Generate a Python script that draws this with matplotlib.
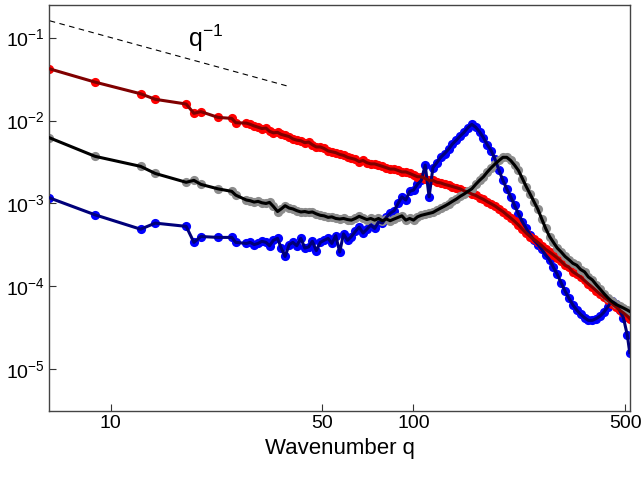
import numpy as np
import matplotlib
matplotlib.use("Agg")
import matplotlib.pyplot as plt

plt.rcParams['font.family'] = ['Liberation Sans', 'DejaVu Sans']
plt.rcParams['mathtext.fontset'] = 'custom'
plt.rcParams['mathtext.rm'] = 'Liberation Sans'
plt.rcParams['mathtext.it'] = 'Liberation Sans'
plt.rcParams['mathtext.default'] = 'regular'

# wavenumbers shared by all three spectra
q = [6.28, 8.89, 12.57, 14.05, 17.77, 18.85, 19.87, 22.65, 25.13, 25.91,
     28.1, 28.9, 29.8, 30.7, 31.6, 32.6, 33.5, 34.5, 35.6, 36.6,
     37.7, 38.9, 40.0, 41.2, 42.5, 43.8, 45.1, 46.4, 47.8, 49.3,
     50.7, 52.3, 53.8, 55.4, 57.1, 58.8, 60.6, 62.4, 64.3, 66.2,
     68.2, 70.2, 72.3, 74.5, 76.7, 79.0, 81.4, 83.8, 86.4, 89.0,
     91.6, 94.4, 97.2, 100.1, 103.1, 106.2, 109.4, 112.7, 116.0, 119.5,
     123.1, 126.8, 130.6, 134.5, 138.6, 142.7, 147.0, 151.4, 155.9, 160.6,
     165.4, 170.4, 175.5, 180.8, 186.2, 191.8, 197.5, 203.4, 209.5, 215.8,
     222.3, 229.0, 235.8, 242.9, 250.2, 257.7, 265.4, 273.4, 281.6, 290.0,
     298.7, 307.7, 316.9, 326.4, 336.2, 346.3, 356.7, 367.4, 378.4, 389.8,
     401.5, 413.5, 425.9, 438.7, 451.8, 465.4, 479.3, 493.7, 508.5, 518.0]

spec_red = [0.042, 0.029, 0.021, 0.018, 0.0158, 0.0122, 0.0128, 0.0109, 0.0106, 0.0094,
            0.0093, 0.0090, 0.0086, 0.0083, 0.0080, 0.0081, 0.0074, 0.0071, 0.0072, 0.0068,
            0.0066, 0.0064, 0.0060, 0.0058, 0.0057, 0.0054, 0.0055, 0.0051, 0.0048, 0.0048,
            0.0046, 0.0043, 0.0042, 0.0041, 0.0039, 0.0038, 0.0036, 0.0035, 0.0034, 0.0032,
            0.0033, 0.0031, 0.0030, 0.0030, 0.0029, 0.0028, 0.0027, 0.0026, 0.0026, 0.0025,
            0.0024, 0.0024, 0.0023, 0.0022, 0.0021, 0.0021, 0.0020, 0.0019, 0.0019, 0.0018,
            0.00177, 0.0017, 0.00165, 0.0016, 0.00155, 0.0015, 0.00142, 0.00137, 0.0013, 0.00125,
            0.00118, 0.00112, 0.00105, 0.00099, 0.00093, 0.00086, 0.00080, 0.00073, 0.00067, 0.00061,
            0.00055, 0.00049, 0.00044, 0.00040, 0.00037, 0.00034, 0.00031, 0.00028, 0.00026, 0.00024,
            0.00022, 0.00020, 0.00018, 0.00017, 0.00015, 0.00014, 0.00013, 0.000118, 0.000107, 0.000098,
            0.000089, 0.000081, 0.000074, 0.000068, 0.000062, 0.000057, 0.000052, 0.000048, 0.000044, 0.000041]

spec_black = [0.0062, 0.0037, 0.0028, 0.0023, 0.0018, 0.0019, 0.0017, 0.0015, 0.0014, 0.00126,
              0.0011, 0.00108, 0.00104, 0.00106, 0.00102, 0.00100, 0.00103, 0.00092, 0.00080, 0.00086,
              0.00094, 0.00088, 0.00086, 0.00082, 0.00079, 0.00080, 0.00078, 0.00079, 0.00075, 0.00072,
              0.00071, 0.00068, 0.00069, 0.00066, 0.00065, 0.00066, 0.00064, 0.00063, 0.00066, 0.00070,
              0.00067, 0.00064, 0.00066, 0.00063, 0.00066, 0.00062, 0.00065, 0.00062, 0.00065, 0.00068,
              0.00071, 0.00063, 0.00066, 0.00063, 0.00069, 0.00072, 0.00074, 0.00076, 0.00078, 0.00083,
              0.00088, 0.00093, 0.00099, 0.00106, 0.00113, 0.00122, 0.0013, 0.0014, 0.0015, 0.0017,
              0.0019, 0.0021, 0.0024, 0.0027, 0.0030, 0.0033, 0.0036, 0.0036, 0.0033, 0.0029,
              0.0025, 0.0020, 0.0016, 0.0013, 0.00105, 0.00085, 0.00065, 0.00050, 0.00040, 0.00034,
              0.00029, 0.00026, 0.00023, 0.00021, 0.00019, 0.00018, 0.00016, 0.00015, 0.00013, 0.00012,
              0.000105, 0.000093, 0.000082, 0.000073, 0.000066, 0.000061, 0.000058, 0.000055, 0.000052, 0.000050]

spec_blue = [0.00117, 0.00073, 0.00049, 0.00058, 0.00053, 0.00034, 0.00040, 0.00039, 0.00039, 0.00034,
             0.00033, 0.00034, 0.00032, 0.00033, 0.00035, 0.00034, 0.00031, 0.00036, 0.00038, 0.00029,
             0.00023, 0.00032, 0.00034, 0.00031, 0.00038, 0.00029, 0.00030, 0.00035, 0.00027, 0.00034,
             0.00036, 0.00038, 0.00033, 0.00041, 0.00026, 0.00043, 0.00036, 0.00040, 0.00046, 0.00052,
             0.00044, 0.00049, 0.00055, 0.00050, 0.00060, 0.00058, 0.00068, 0.00076, 0.00082, 0.00100,
             0.00120, 0.00110, 0.00140, 0.00145, 0.00170, 0.00190, 0.0029, 0.0012, 0.0027, 0.0031,
             0.0036, 0.0040, 0.0045, 0.0052, 0.0058, 0.0065, 0.0072, 0.0082, 0.0090, 0.0083,
             0.0073, 0.0062, 0.0051, 0.0043, 0.0034, 0.0025, 0.0019, 0.0015, 0.0012, 0.00095,
             0.00075, 0.00060, 0.00050, 0.00042, 0.00036, 0.00032, 0.00028, 0.00024, 0.00021, 0.00017,
             0.00014, 0.00011, 0.000088, 0.000072, 0.000060, 0.000052, 0.000046, 0.000042, 0.000039, 0.000039,
             0.000041, 0.000044, 0.000049, 0.000057, 0.000066, 0.000062, 0.000052, 0.000042, 0.000026, 0.000016]

# reference power law q^-1
ref_q = [6.3, 39]
ref_s = [0.159, 0.0256]

xticks = [10, 50, 100, 500]
yticks = [1e-5, 1e-4, 1e-3, 1e-2, 1e-1]
ylabels = [r'$10^{-5}$', r'$10^{-4}$', r'$10^{-3}$', r'$10^{-2}$', r'$10^{-1}$']

fig = plt.figure(figsize=(6.41, 4.79), dpi=100)
ax = fig.add_axes([0.077, 0.143, 0.9054, 0.847])

series = [(spec_blue, '#0000ff', '#00007a'),
          (spec_red, '#ff0000', '#800000'),
          (spec_black, '#8c8c8c', '#000000')]
# markers first, lines on top
for s, mc, lc in series:
    ax.plot(q, s, 'o', color=mc, ms=6.6, mew=0, zorder=2)
for s, mc, lc in series:
    ax.plot(q, s, '-', color=lc, lw=2.2, zorder=3)

ax.plot(ref_q, ref_s, '--', color='black', lw=0.8, dashes=(5, 4))
ax.text(18, 0.077, r'$q^{-1}$', fontsize=18, va='baseline')

ax.set_xscale('log')
ax.set_yscale('log')
ax.set_xlim(6.28, 518)
ax.set_ylim(3.2e-6, 0.248)
ax.set_xticks(xticks)
ax.set_xticklabels([str(t) for t in xticks])
ax.set_yticks(yticks)
ax.set_yticklabels(ylabels)
ax.minorticks_off()
ax.tick_params(direction='in', length=5, labelsize=14, color='#333333')
ax.set_xlabel('Wavenumber q', fontsize=16)
for sp in ax.spines.values():
    sp.set_color('#444444')
    sp.set_linewidth(1.0)

fig.savefig('out.png', dpi=100)
